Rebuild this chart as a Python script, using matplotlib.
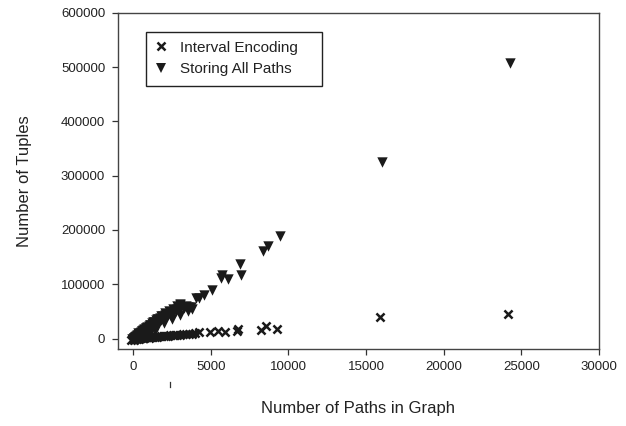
import matplotlib
matplotlib.use("Agg")
import matplotlib.pyplot as plt
from matplotlib.lines import Line2D
from matplotlib.patches import Rectangle

plt.rcParams["font.family"] = ["Liberation Sans", "DejaVu Sans"]

# Interval Encoding: (paths, tuples)
interval_paths = [0, 30, 60, 100, 150, 200, 250, 300, 350, 400, 450, 500, 600, 700,
                  800, 900, 1000, 1100, 1200, 1300, 1400, 1500, 1650, 1800, 1950,
                  2100, 2250, 2400, 2550, 2700, 2850, 3000, 3200, 3400, 3600, 3800,
                  4000, 4250, 4920, 5460, 5910, 6670, 6780, 8210, 8550, 9270,
                  15870, 24110, -150, 50, 120, 250, 400, 700, 1000, 1500]
interval_tuples = [0, 100, 200, 300, 400, 600, 700, 900, 1000, 1200, 1300, 1500, 1700,
                   2000, 2200, 2500, 2700, 3000, 3200, 3500, 3700, 4000, 4300, 4700,
                   5000, 5400, 5700, 6000, 6400, 6700, 7000, 7400, 7800, 8300, 8800,
                   9300, 9800, 11800, 12900, 14200, 12900, 14700, 17300, 16000, 23900,
                   17900, 40500, 44900, -2500, -2000, -1500, -800, -500, 500, 1000, 2500]

# Storing All Paths: (paths, tuples)
allpaths_paths = [0, 20, 50, 80, 100, 130, 150, 180, 200, 230, 260, 300, 320, 350, 380,
                  420, 450, 480, 520, 560, 600, 640, 680, 720, 760, 800, 850, 900,
                  950, 1000, 1050, 1100, 1150, 1200, 1260, 1320, 1380, 1450, 1500,
                  1580, 1650, 1720, 1800, 1880, 1950, 2050, 2150, 2250, 2350, 2450,
                  2550, 2650, 2750, 2850, 2950, 3040, 3100, 3250, 3400, 3550, 3750,
                  4030, 4250, 4590, 5070, 5640, 5730, 6130, 6850, 6940, 8370, 8660,
                  9425, 16030, 24280,
                  300, 550, 800, 1050, 1300, 1550, 1800, 2050, 2300, 2550, 2800, 3000,
                  -100, 150, 400, 650, 900, 1150, 1400,
                  1000, 1500, 2000, 2500, 3000, 3500, 3800]
allpaths_tuples = [0, 300, 900, 1600, 2200, 2700, 3500, 3200, 4800, 4300, 6200, 5600,
                   7500, 8000, 7200, 9800, 9000, 11500, 10500, 13500, 12000, 15500,
                   14000, 17500, 16000, 19500, 17500, 21500, 19500, 24000, 21000,
                   26000, 23000, 28500, 25000, 31000, 27000, 33500, 29500, 36000,
                   32500, 38500, 35000, 41000, 38000, 44000, 41000, 46000, 44000,
                   48500, 47000, 52000, 50500, 55000, 53000, 62000, 58000, 57000,
                   60500, 59000, 58900, 74400, 75500, 80400, 90200, 111000, 117000,
                   109100, 136900, 117200, 162000, 171200, 189600, 324700, 508000,
                   9500, 15000, 20500, 26000, 31000, 36500, 41500, 46500, 51000,
                   55000, 59500, 63000,
                   -1500, 1500, 4000, 7500, 11000, 14500, 18000,
                   14000, 21000, 28000, 36000, 43000, 50000, 55000]

x_ticks = [0, 5000, 10000, 15000, 20000, 25000, 30000]
y_ticks = [0, 100000, 200000, 300000, 400000, 500000, 600000]
series_labels = ["Interval Encoding", "Storing All Paths"]

ink = "#1a1a1a"
text_color = "#222222"

fig = plt.figure(figsize=(6.26, 4.26), dpi=100)
ax = fig.add_axes([117.7 / 626, 1 - 348.7 / 426, (599 - 117.7) / 626, (348.7 - 12.7) / 426])

ax.scatter(allpaths_paths, allpaths_tuples, marker="v", s=56, color=ink,
           linewidths=0, zorder=3)
ax.scatter(interval_paths, interval_tuples, marker="x", s=34, color=ink,
           linewidths=1.8, zorder=3)

ax.set_xlim(-1000, 30000)
ax.set_ylim(-18500, 600000)
ax.set_xticks(x_ticks)
ax.set_yticks(y_ticks)
ax.set_xticklabels([str(v) for v in x_ticks])
ax.set_yticklabels([str(v) for v in y_ticks])
ax.tick_params(direction="out", length=4, width=0.9, colors="#333333",
               labelsize=9.5, labelcolor=text_color, pad=5)

for side in ax.spines.values():
    side.set_color("#444444")
    side.set_linewidth(1.0)

ax.set_xlabel("Number of Paths in Graph", fontsize=12, color=text_color, labelpad=20)
ax.set_ylabel("Number of Tuples", fontsize=12, color=text_color, labelpad=21)

handles = [
    Line2D([], [], linestyle="none", marker="x", markersize=5.5, markeredgewidth=1.8,
           color=ink),
    Line2D([], [], linestyle="none", marker="v", markersize=7, color=ink,
           markeredgewidth=0),
]
leg = ax.legend(handles, series_labels,
                loc="upper left", bbox_to_anchor=(149 / 626, 1 - 36 / 426),
                bbox_transform=fig.transFigure, fontsize=11, frameon=False,
                borderpad=0.3, handlelength=1.0, handletextpad=0.7,
                labelspacing=0.5, borderaxespad=0)
for t in leg.get_texts():
    t.set_color(text_color)

# legend box
fig.add_artist(Rectangle((145.5 / 626, 1 - 85.7 / 426), (322 - 145.5) / 626,
                         (85.7 - 32.3) / 426, transform=fig.transFigure,
                         facecolor="none", edgecolor="#222222", linewidth=1.0,
                         zorder=5))

# small stray tick under the axis
fig.add_artist(Line2D([170 / 626, 170 / 626], [1 - 382 / 426, 1 - 387 / 426],
                      color="#333333", linewidth=0.9))

fig.savefig("out.png", dpi=100)
